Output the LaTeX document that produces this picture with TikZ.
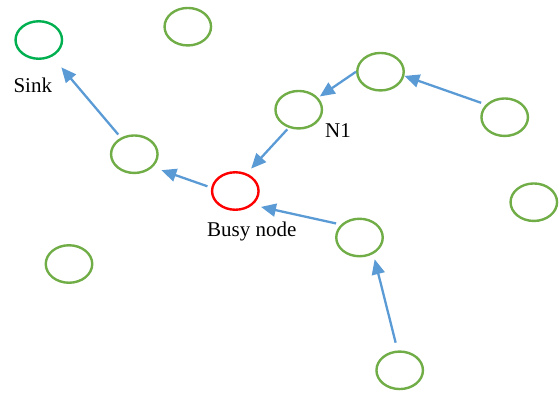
\documentclass[tikz,border=0pt]{standalone}
\usepackage{fontspec}
\setmainfont{Liberation Serif}
\usetikzlibrary{shapes.geometric,arrows.meta}
\definecolor{nodegreen}{HTML}{70AD47}
\definecolor{sinkgreen}{HTML}{00B050}
\definecolor{busyred}{HTML}{FF0000}
\definecolor{arrowblue}{HTML}{5B9BD5}
\tikzset{
  sensor/.style={ellipse, draw=nodegreen, line width=2.4pt, minimum width=46.5pt, minimum height=37.5pt, inner sep=0pt},
  sinknode/.style={sensor, draw=sinkgreen},
  busynode/.style={sensor, draw=busyred},
  hop/.style={draw=arrowblue, line width=2.3pt, -{Triangle[length=15pt,width=13pt]}},
  tag/.style={font=\fontsize{21}{25}\selectfont, inner sep=0pt, anchor=base west}
}
\begin{document}
\begin{tikzpicture}[x=1pt, y=-1pt]
            \useasboundingbox (0, 0) rectangle (559, 392);
            \node[sinknode] (sink) at (38.8, 40) {};
            \node[sensor] (top) at (187.8, 26.7) {};
            \node[sensor] (relay) at (134.3, 154.2) {};
            \node[busynode] (busy) at (235.3, 191) {};
            \node[sensor] (n1) at (298.7, 109.7) {};
            \node[sensor] (upper) at (380.5, 71.7) {};
            \node[sensor] (east) at (504.7, 117.2) {};
            \node[sensor] (fareast) at (533.8, 202.2) {};
            \node[sensor] (middle) at (359.5, 237.5) {};
            \node[sensor] (bottom) at (399.7, 370.3) {};
            \node[sensor] (west) at (69, 264) {};
            \node[tag] (sinklabel) at (13.3, 92.7) {Sink};
            \node[tag] (n1label) at (325, 137.7) {N1};
            \node[tag] (busylabel) at (207, 236) {Busy node};
            \draw[hop, shorten <=4pt, shorten >=14pt] (relay.129) -- (sink.-51);
            \draw[hop, shorten <=4pt, shorten >=9pt] (busy.172) -- (relay.-35);
            \draw[hop, shorten <=2pt, shorten >=6.5pt] (n1.-119) -- (busy.57);
            \draw[hop, shorten >=2pt] (upper.180) -- (n1.32);
            \draw[hop, shorten <=5pt] (east.146) -- (upper.-10);
            \draw[hop, shorten <=5pt, shorten >=8.5pt] (middle.145) -- (busy.-39);
            \draw[hop, shorten <=8pt, shorten >=5.5pt] (bottom.96) -- (middle.-50);
        \end{tikzpicture}
\end{document}
